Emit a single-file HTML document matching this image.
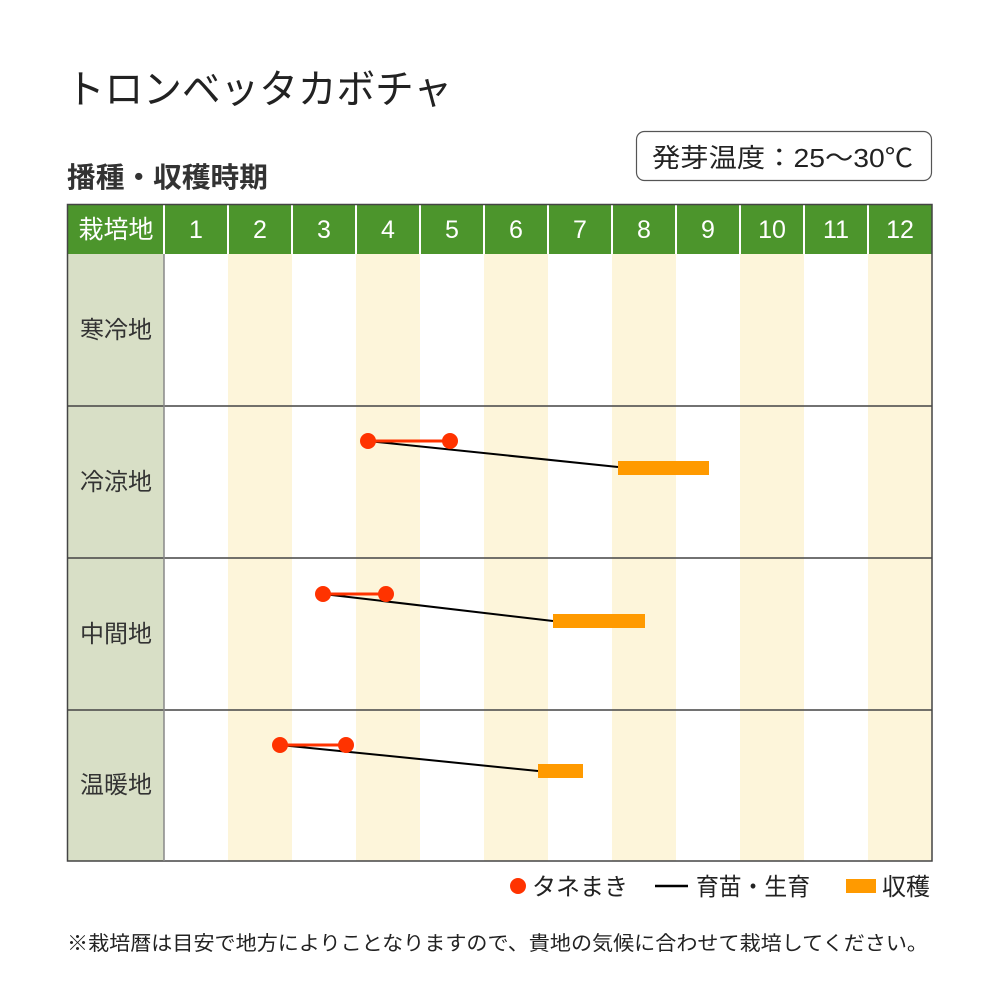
<!DOCTYPE html>
<html><head><meta charset="utf-8"><style>
body{margin:0;background:#fff;}
svg text{font-family:"Liberation Sans","Noto Sans CJK JP",sans-serif;}
</style></head><body>
<svg width="1000" height="1000" viewBox="0 0 1000 1000" xmlns="http://www.w3.org/2000/svg">
<text x="66" y="103" font-size="40" fill="#222" textLength="386" lengthAdjust="spacingAndGlyphs">トロンベッタカボチャ</text>
<text x="67" y="187" font-size="28" font-weight="bold" fill="#333" textLength="201" lengthAdjust="spacingAndGlyphs">播種・収穫時期</text>
<rect x="636.5" y="131.5" width="295" height="49" rx="8" fill="#fff" stroke="#555" stroke-width="1.2"/>
<text x="652" y="167" font-size="26" fill="#222" textLength="261" lengthAdjust="spacingAndGlyphs">発芽温度：25〜30℃</text>
<g fill="#fdf5da">
<rect x="228" y="254" width="64" height="607"/><rect x="356" y="254" width="64" height="607"/>
<rect x="484" y="254" width="64" height="607"/><rect x="612" y="254" width="64" height="607"/>
<rect x="740" y="254" width="64" height="607"/><rect x="868" y="254" width="64" height="607"/>
</g>
<rect x="67" y="254" width="97" height="607" fill="#d8dfc6"/>
<rect x="67" y="204" width="865" height="50" fill="#4c952c"/>
<g stroke="#fff" stroke-width="2">
<line x1="164" y1="204" x2="164" y2="254"/><line x1="228" y1="204" x2="228" y2="254"/><line x1="292" y1="204" x2="292" y2="254"/><line x1="356" y1="204" x2="356" y2="254"/><line x1="420" y1="204" x2="420" y2="254"/><line x1="484" y1="204" x2="484" y2="254"/><line x1="548" y1="204" x2="548" y2="254"/><line x1="612" y1="204" x2="612" y2="254"/><line x1="676" y1="204" x2="676" y2="254"/><line x1="740" y1="204" x2="740" y2="254"/><line x1="804" y1="204" x2="804" y2="254"/><line x1="868" y1="204" x2="868" y2="254"/>
</g>
<g fill="#fff" font-size="25" text-anchor="middle">
<text x="116" y="238">栽培地</text>
<text x="196" y="238">1</text><text x="260" y="238">2</text><text x="324" y="238">3</text><text x="388" y="238">4</text><text x="452" y="238">5</text><text x="516" y="238">6</text><text x="580" y="238">7</text><text x="644" y="238">8</text><text x="708" y="238">9</text><text x="772" y="238">10</text><text x="836" y="238">11</text><text x="900" y="238">12</text>
</g>
<g stroke="#444" stroke-width="1.5" fill="none">
<rect x="67.5" y="204.5" width="864.5" height="656.5"/>
<line x1="67" y1="406" x2="932" y2="406"/><line x1="67" y1="558" x2="932" y2="558"/><line x1="67" y1="710" x2="932" y2="710"/>
<line x1="164" y1="254" x2="164" y2="861" stroke="#888"/>
</g>
<g fill="#333" font-size="24" text-anchor="middle">
<text x="116" y="338">寒冷地</text><text x="116" y="490">冷涼地</text><text x="116" y="642">中間地</text><text x="116" y="793">温暖地</text>
</g>
<g stroke="#000" stroke-width="2">
<line x1="368" y1="441" x2="618" y2="467"/><line x1="323" y1="594" x2="553" y2="621"/><line x1="280" y1="745" x2="538" y2="771"/>
</g>
<g fill="#ff9a00">
<rect x="618" y="461" width="91" height="14"/><rect x="553" y="614" width="92" height="14"/><rect x="538" y="764" width="45" height="14"/>
</g>
<g stroke="#ff3300" stroke-width="3">
<line x1="368" y1="441" x2="450" y2="441"/><line x1="323" y1="594" x2="386" y2="594"/><line x1="280" y1="745" x2="346" y2="745"/>
</g>
<g fill="#ff3300">
<circle cx="368" cy="441" r="8"/><circle cx="450" cy="441" r="8"/><circle cx="323" cy="594" r="8"/><circle cx="386" cy="594" r="8"/><circle cx="280" cy="745" r="8"/><circle cx="346" cy="745" r="8"/>
</g>
<circle cx="518" cy="886" r="8" fill="#ff3300"/>
<text x="532" y="895" font-size="24" fill="#222" textLength="96" lengthAdjust="spacingAndGlyphs">タネまき</text>
<line x1="655" y1="886" x2="688" y2="886" stroke="#000" stroke-width="2.5"/>
<text x="696" y="895" font-size="24" fill="#222" textLength="114" lengthAdjust="spacingAndGlyphs">育苗・生育</text>
<rect x="846" y="879" width="30" height="14" fill="#ff9a00"/>
<text x="882" y="895" font-size="24" fill="#222">収穫</text>
<text x="67" y="950" font-size="20" fill="#222" textLength="861" lengthAdjust="spacingAndGlyphs">※栽培暦は目安で地方によりことなりますので、貴地の気候に合わせて栽培してください。</text>
</svg>
</body></html>
